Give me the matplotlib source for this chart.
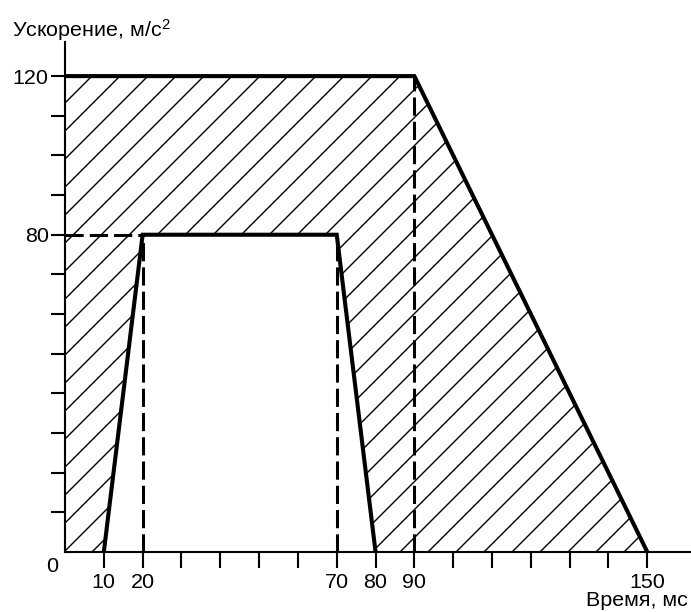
import numpy as np
import matplotlib.pyplot as plt
from matplotlib.patches import Polygon

plt.rcParams['font.family'] = ['Liberation Sans', 'DejaVu Sans']
plt.rcParams['mathtext.fontset'] = 'custom'
plt.rcParams['mathtext.rm'] = 'Liberation Sans'
plt.rcParams['mathtext.it'] = 'Liberation Sans'
plt.rcParams['hatch.linewidth'] = 0.6

# границы допустимой области (время, мс / ускорение, м/с^2)
outer_t = [0, 0, 90, 150]
outer_a = [0, 120, 120, 0]
inner_t = [10, 20, 70, 80]
inner_a = [0, 80, 80, 0]

# вспомогательные пунктирные линии
dash_t = [20, 70, 90]
dash_top = [80, 80, 120]

xtick_vals = np.arange(10, 160, 10)
xtick_labels = ['10', '20', '70', '80', '90', '150']
ytick_vals = np.arange(10, 130, 10)
ytick_labels = ['80', '120']

DPI = 168
FS = 9.2
fig = plt.figure(figsize=(691 / DPI, 612 / DPI), dpi=DPI)
ax = fig.add_axes([65 / 691, 60 / 612, 625 / 691, 510 / 612])
ax.set_xlim(0, 161)
ax.set_ylim(0, 128.6)

thick = 1.75
# штрихованная область
ax.add_patch(Polygon(list(zip(outer_t, outer_a)), closed=True, facecolor='white',
                     edgecolor='black', hatch='//', linewidth=0, zorder=1))
ax.add_patch(Polygon(list(zip(inner_t, inner_a)), closed=True, facecolor='white',
                     edgecolor='none', zorder=2))

# пунктир
for t, top in zip(dash_t, dash_top):
    ax.plot([t, t], [0, top], color='black', lw=1.3, dashes=(6, 2), zorder=3)
ax.plot([0, inner_t[1]], [inner_a[1], inner_a[1]], color='black', lw=1.3,
        dashes=(6, 2), zorder=3)

# сплошные контуры
ax.plot(outer_t[1:], outer_a[1:], color='black', lw=thick, zorder=4,
        solid_joinstyle='miter')
ax.plot(inner_t, inner_a, color='black', lw=thick, zorder=4,
        solid_joinstyle='miter')

# оси
for s in ['top', 'right']:
    ax.spines[s].set_visible(False)
for s in ['left', 'bottom']:
    ax.spines[s].set_linewidth(0.9)
    ax.spines[s].set_zorder(5)

ax.set_xticks(xtick_vals)
ax.set_xticklabels([str(v) if str(v) in xtick_labels else '' for v in xtick_vals])
ax.set_yticks(ytick_vals)
ax.set_yticklabels([str(v) if str(v) in ytick_labels else '' for v in ytick_vals])
ax.tick_params(axis='x', direction='out', length=7, width=0.9, labelsize=FS, pad=2)
ax.tick_params(axis='y', direction='out', length=6, width=0.9, labelsize=FS, pad=1)

ax.text(-1.8, -1.2, '0', ha='right', va='top', fontsize=FS)
fig.text(12 / 691, 1 - 30 / 612, 'Ускорение, м/с$^2$', ha='left', va='center', fontsize=FS)
fig.text(688 / 691, 1 - 601 / 612, 'Время, мс', ha='right', va='center', fontsize=FS)

fig.savefig('out.png', dpi=DPI)
